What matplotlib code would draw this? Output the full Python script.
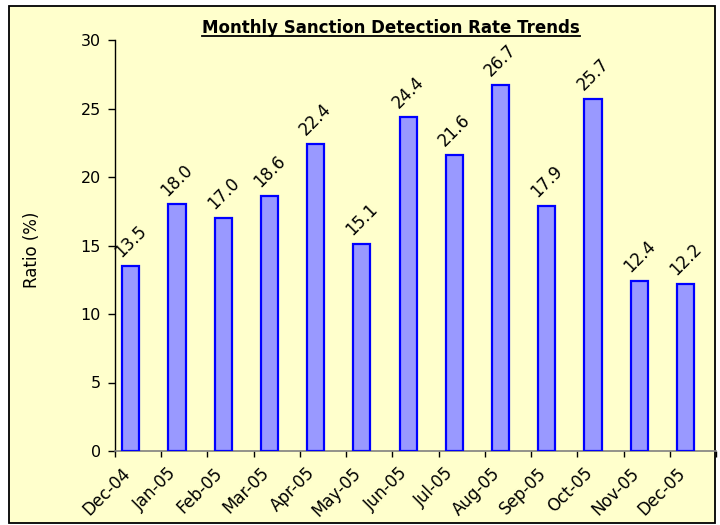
import matplotlib
matplotlib.use("Agg")
import matplotlib.pyplot as plt
from matplotlib.patches import Rectangle
from matplotlib.lines import Line2D
import numpy as np

months = ["Dec-04", "Jan-05", "Feb-05", "Mar-05", "Apr-05", "May-05", "Jun-05",
          "Jul-05", "Aug-05", "Sep-05", "Oct-05", "Nov-05", "Dec-05"]
ratios = [13.5, 18.0, 17.0, 18.6, 22.4, 15.1, 24.4, 21.6, 26.7, 17.9, 25.7, 12.4, 12.2]
yticks = [0, 5, 10, 15, 20, 25, 30]

bg = "#FFFFCC"
plt.rcParams['font.family'] = ['DejaVu Sans']

fig = plt.figure(figsize=(7.2, 5.25), dpi=100)
fig.patch.set_facecolor("white")

# chart area border
border = Rectangle((9/720, 1 - 523/525), 706/720, 517/525, transform=fig.transFigure,
                   facecolor=bg, edgecolor="black", linewidth=1.3, zorder=-5)
fig.add_artist(border)

ax = fig.add_axes([115/720, 1 - 451/525, (716 - 115)/720, (451 - 40)/525])
ax.set_facecolor("none")
ax.set_zorder(2)

pos = np.arange(len(months))
x = pos - 0.16
bars = ax.bar(x, ratios, width=0.37, color="#9999FF", edgecolor="#0000FF", linewidth=1.6, zorder=3)

for xi, v in zip(x, ratios):
    ax.annotate(f"{v:.1f}", (xi, v), xytext=(0, 17.5), textcoords="offset points",
                rotation=45, ha="center", va="center", rotation_mode="anchor",
                fontsize=12, color="black")

ax.set_xlim(-0.5, len(months) - 0.5)
ax.set_ylim(0, 30)
ax.set_yticks(yticks)
ax.set_yticklabels([str(t) for t in yticks], fontsize=11.5)
ax.tick_params(axis="y", direction="out", length=5, width=1, color="black", pad=5)

ax.set_xticks(pos - 0.23)
ax.set_xticklabels(months, rotation=45, ha="right", va="center", rotation_mode="anchor", fontsize=12)
ax.tick_params(axis="x", which="major", length=0, pad=14)
ax.set_xticks(np.arange(len(months) + 1) - 0.5, minor=True)
ax.tick_params(axis="x", which="minor", direction="out", length=4, width=1, color="black")

for s in ["top", "right"]:
    ax.spines[s].set_visible(False)
ax.spines["left"].set_color("black")
ax.spines["bottom"].set_color("#808080")
ax.spines["left"].set_linewidth(1)
ax.spines["bottom"].set_linewidth(1.2)

fig.text(32/720, 1 - 250/525, "Ratio (%)", rotation=90, ha="center", va="center", fontsize=12)

title = fig.text(391/720, 1 - 28/525, "Monthly Sanction Detection Rate Trends",
                 ha="center", va="center", fontsize=12, fontweight="bold")
fig.canvas.draw()
bb = title.get_window_extent(renderer=fig.canvas.get_renderer())
inv = fig.transFigure.inverted()
(x0, y0), (x1, y1) = inv.transform([(bb.x0, bb.y0), (bb.x1, bb.y1)])
fig.add_artist(Line2D([x0, x1], [y0 + 0.6/525, y0 + 0.6/525], transform=fig.transFigure,
                      color="black", linewidth=1.3))

fig.savefig("out.png", dpi=100, facecolor=fig.get_facecolor())
